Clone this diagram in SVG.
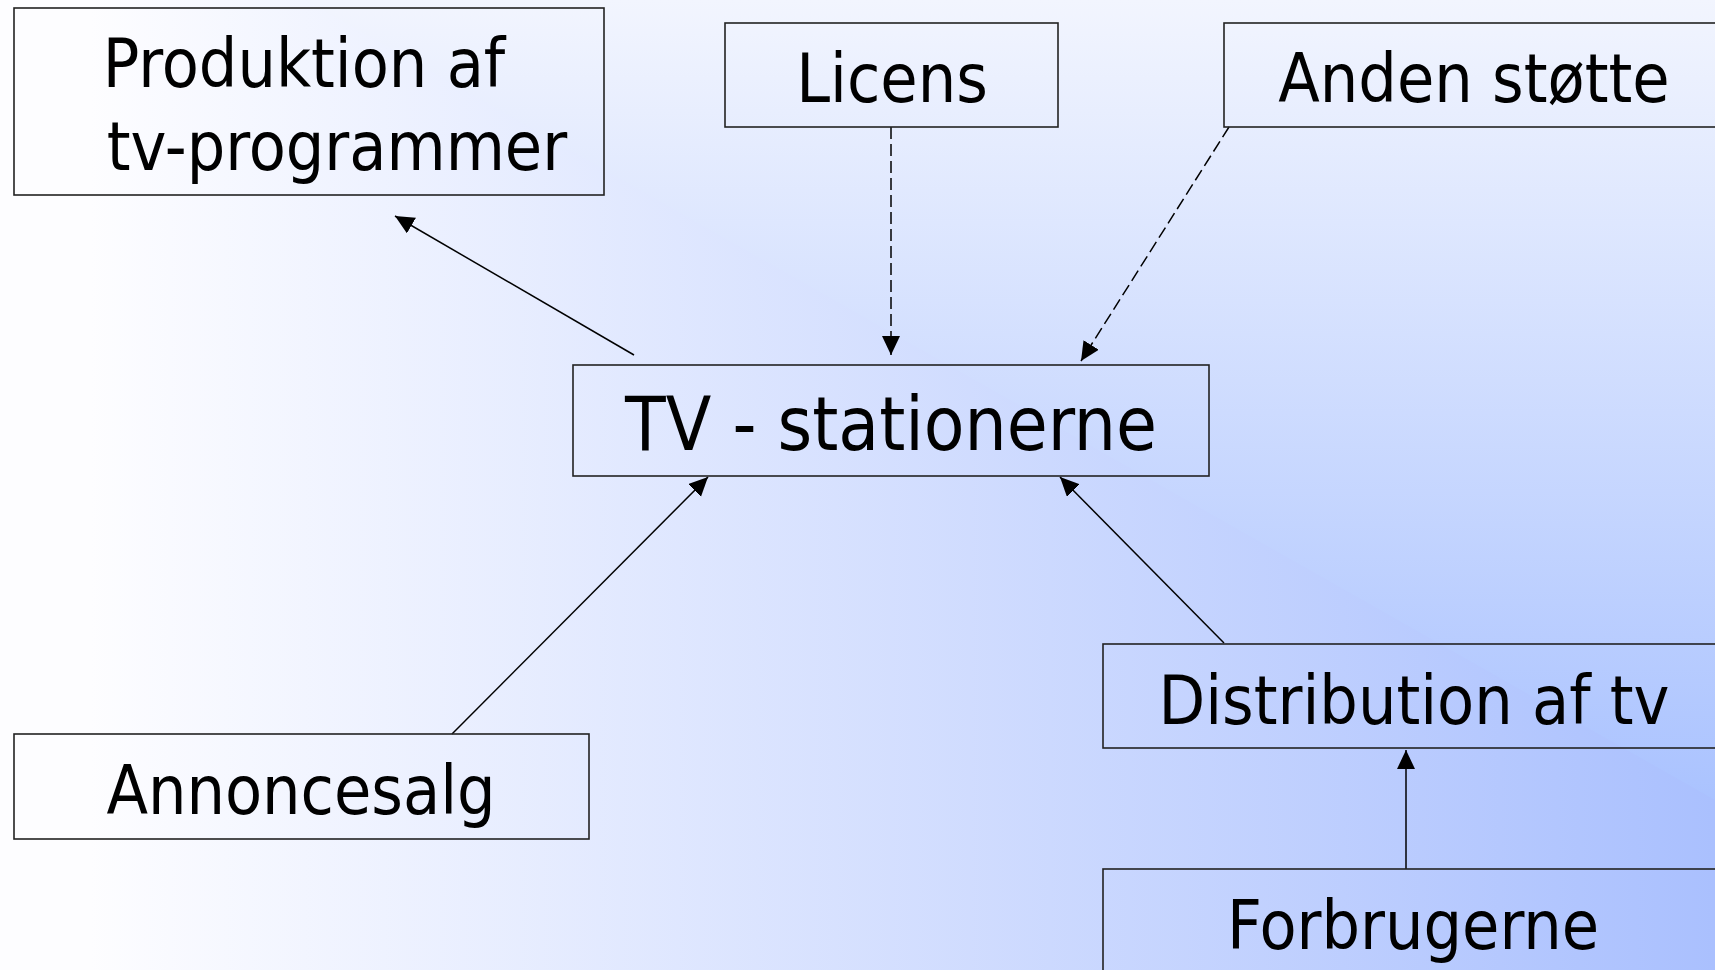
<svg xmlns="http://www.w3.org/2000/svg" width="1715" height="970" viewBox="0 0 1715 970">
  <defs>
    <linearGradient id="gh" gradientUnits="userSpaceOnUse" x1="90" y1="0" x2="1715" y2="0">
      <stop offset="0" stop-color="#fdfdff"/>
      <stop offset="1" stop-color="#aac0fe"/>
    </linearGradient>
    <linearGradient id="gv" gradientUnits="userSpaceOnUse" x1="0" y1="0" x2="0" y2="970">
      <stop offset="0" stop-color="#f2f5fe"/>
      <stop offset="1" stop-color="#9bb8ff"/>
    </linearGradient>
    <marker id="ah" markerUnits="userSpaceOnUse" markerWidth="20" markerHeight="20" refX="19" refY="9" orient="auto">
      <path d="M0,0 L19,9 L0,18 z" fill="#000"/>
    </marker>
    <style>
      .box { fill: none; stroke: #222; stroke-width: 1.6; }
      .lbl { font-family: 'DejaVu Sans Condensed', 'DejaVu Sans', sans-serif; font-stretch: condensed; font-size: 67.5px; fill: #000; text-anchor: middle; }
      .big { font-size: 74px; }
      .con { fill: none; stroke: #000; stroke-width: 1.5; marker-end: url(#ah); }
      .dash { stroke-dasharray: 12 5; }
    </style>
  </defs>
  <rect x="0" y="0" width="1715" height="970" fill="url(#gh)"/>
  <polygon points="305,0 1715,0 1715,800" fill="url(#gv)"/>

  <g id="connectors">
    <line class="con" x1="634" y1="355" x2="395" y2="216"/>
    <line class="con dash" x1="891" y1="127" x2="891" y2="355"/>
    <line class="con dash" x1="1229" y1="127" x2="1081" y2="361"/>
    <line class="con" x1="452" y1="734" x2="708" y2="477"/>
    <line class="con" x1="1224" y1="643" x2="1060" y2="477"/>
    <line class="con" x1="1406" y1="869" x2="1406" y2="750"/>
  </g>

  <g id="node-produktion">
    <rect class="box" x="14" y="8" width="590" height="187"/>
    <text class="lbl" x="304" y="87">Produktion af</text>
    <text class="lbl" x="337" y="170">tv-programmer</text>
  </g>
  <g id="node-licens">
    <rect class="box" x="725" y="23" width="333" height="104"/>
    <text class="lbl" x="892" y="102">Licens</text>
  </g>
  <g id="node-anden">
    <rect class="box" x="1224" y="23" width="500" height="104"/>
    <text class="lbl" x="1474" y="102">Anden støtte</text>
  </g>
  <g id="node-tv">
    <rect class="box" x="573" y="365" width="636" height="111"/>
    <text class="lbl big" x="891" y="450">TV - stationerne</text>
  </g>
  <g id="node-annoncesalg">
    <rect class="box" x="14" y="734" width="575" height="105"/>
    <text class="lbl" x="301" y="814">Annoncesalg</text>
  </g>
  <g id="node-distribution">
    <rect class="box" x="1103" y="644" width="622" height="104"/>
    <text class="lbl" x="1414" y="724">Distribution af tv</text>
  </g>
  <g id="node-forbrugerne">
    <rect class="box" x="1103" y="869" width="622" height="120"/>
    <text class="lbl" x="1413" y="949">Forbrugerne</text>
  </g>
</svg>
